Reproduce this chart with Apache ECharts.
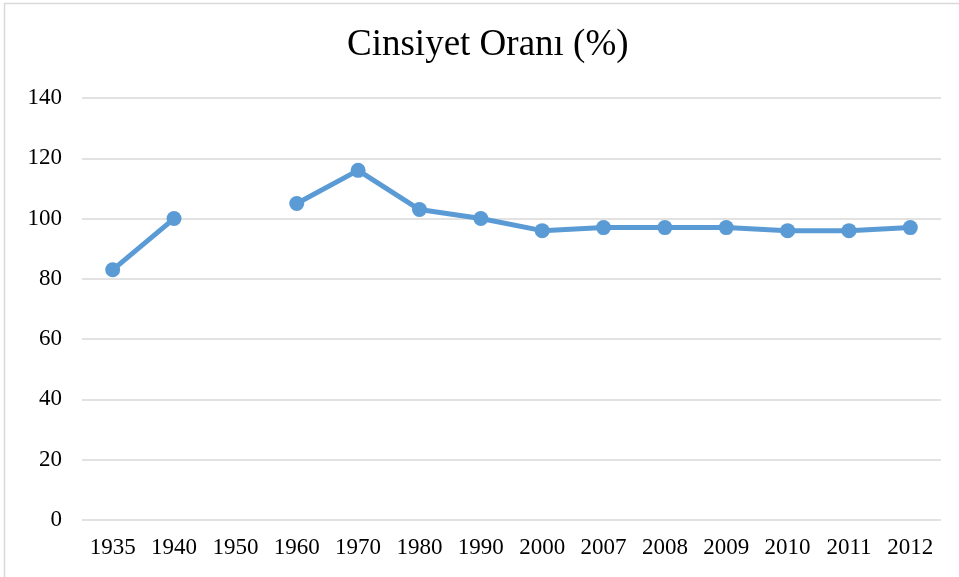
<!DOCTYPE html>
<html>
<head>
<meta charset="utf-8">
<script src="https://cdn.jsdelivr.net/npm/echarts@6/dist/echarts.min.js"></script>
<style>
  html, body { margin: 0; padding: 0; background: #fff; }
  #chart { width: 959px; height: 577px; }
</style>
</head>
<body>
<div id="chart"></div>
<script>
// Sex ratio by census year (1950 has no value, so the line breaks there)
const years = ['1935', '1940', '1950', '1960', '1970', '1980', '1990', '2000', '2007', '2008', '2009', '2010', '2011', '2012'];
const ratio = [83, 100, null, 105, 116, 103, 100, 96, 97, 97, 97, 96, 96, 97];
const yTicks = { min: 0, max: 140, interval: 20 };

const serif = '"Liberation Serif", "DejaVu Serif", serif';
const chart = echarts.init(document.getElementById('chart'), null, { renderer: 'canvas' });

chart.setOption({
  backgroundColor: '#ffffff',
  animation: false,
  title: {
    text: 'Cinsiyet Oranı (%)',
    left: 342,
    top: 22,
    textStyle: { fontFamily: serif, fontSize: 37, fontWeight: 'normal', color: '#000' }
  },
  graphic: [{
    type: 'rect',
    shape: { x: 4.5, y: 3.5, width: 1000, height: 1000 },
    style: { fill: 'none', stroke: '#d9d9d9', lineWidth: 1.5 },
    silent: true
  }],
  grid: { left: 82, right: 18, top: 98, bottom: 57 },
  xAxis: {
    type: 'category',
    data: years,
    boundaryGap: true,
    axisLine: { show: false },
    axisTick: { show: false },
    axisLabel: { fontFamily: serif, fontSize: 23, color: '#000', margin: 16 }
  },
  yAxis: {
    type: 'value',
    min: yTicks.min,
    max: yTicks.max,
    interval: yTicks.interval,
    axisLine: { show: false },
    axisTick: { show: false },
    splitLine: { lineStyle: { color: '#d9d9d9', width: 1.5 } },
    axisLabel: { fontFamily: serif, fontSize: 23, color: '#000', margin: 20 }
  },
  series: [{
    type: 'line',
    data: ratio,
    connectNulls: false,
    symbol: 'circle',
    symbolSize: 15,
    lineStyle: { color: '#5b9bd5', width: 5 },
    itemStyle: { color: '#5b9bd5' }
  }]
});
</script>
</body>
</html>
